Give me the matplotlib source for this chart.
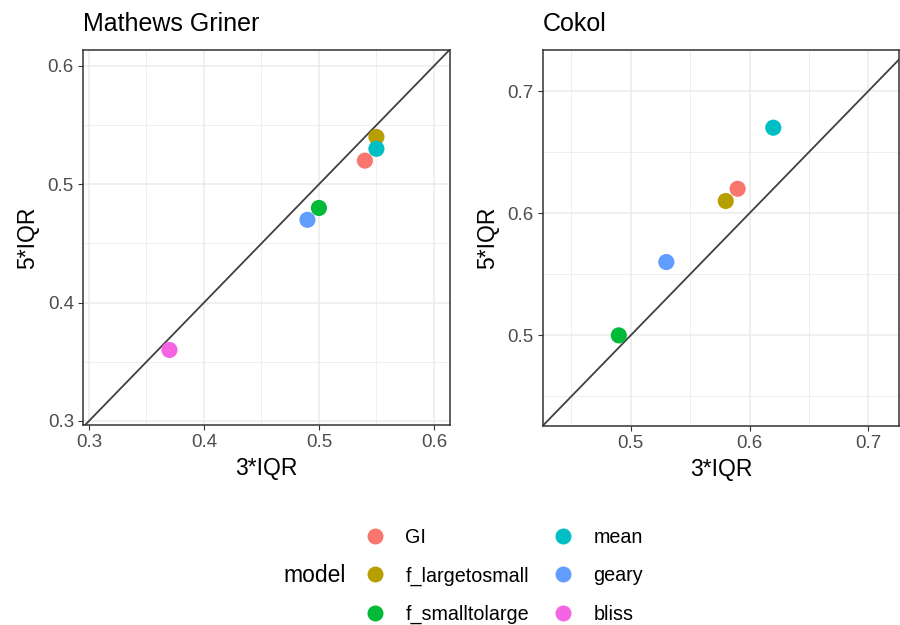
import matplotlib
matplotlib.use("Agg")
import matplotlib.pyplot as plt
from matplotlib.lines import Line2D
from matplotlib.ticker import MultipleLocator

plt.rcParams['font.family'] = ['Liberation Sans', 'DejaVu Sans']

models = ["GI", "f_largetosmall", "f_smalltolarge", "mean", "geary", "bliss"]
colors = ["#F8766D", "#B79F00", "#00BA38", "#00BFC4", "#619CFF", "#F564E3"]

# Mathews Griner: 3*IQR vs 5*IQR per model
mg_x = [0.54, 0.55, 0.50, 0.55, 0.49, 0.37]
mg_y = [0.52, 0.54, 0.48, 0.53, 0.47, 0.36]

# Cokol (no bliss value)
ck_models = ["GI", "f_largetosmall", "f_smalltolarge", "mean", "geary"]
ck_x = [0.59, 0.58, 0.49, 0.62, 0.53]
ck_y = [0.62, 0.61, 0.50, 0.67, 0.56]

fig = plt.figure(figsize=(9, 6.25), dpi=100)

W, H = 900, 625


def px_axes(left, top, right, bottom):
    return fig.add_axes([left / W, 1 - bottom / H, (right - left) / W, (bottom - top) / H])


def style(ax, xlim, ylim, major, title):
    ax.set_xlim(*xlim)
    ax.set_ylim(*ylim)
    ax.xaxis.set_major_locator(MultipleLocator(major))
    ax.yaxis.set_major_locator(MultipleLocator(major))
    ax.xaxis.set_minor_locator(MultipleLocator(major / 2))
    ax.yaxis.set_minor_locator(MultipleLocator(major / 2))
    ax.grid(which="major", color="#EBEBEB", lw=1.1, zorder=0)
    ax.grid(which="minor", color="#EBEBEB", lw=0.55, zorder=0)
    ax.set_axisbelow(True)
    ax.tick_params(which="minor", length=0)
    ax.tick_params(which="major", length=3.5, width=0.8, color="#333333",
                   labelcolor="#4D4D4D", labelsize=13.5, pad=3)
    for s in ax.spines.values():
        s.set_color("#333333")
        s.set_linewidth(1.1)
    ax.set_xlabel("3*IQR", fontsize=16.5, labelpad=4)
    ax.set_ylabel("5*IQR", fontsize=16.5, labelpad=6)
    ax.set_title(title, loc="left", fontsize=18, pad=14)
    ax.axline((0, 0), slope=1, color="#404040", lw=1.3, zorder=2)


ax1 = px_axes(83, 50, 450, 425)
style(ax1, (0.2948, 0.614), (0.2966, 0.6135), 0.1, "Mathews Griner")
for m, x, y, c in zip(models, mg_x, mg_y, colors):
    ax1.scatter(x, y, s=135, color=c, edgecolors="none", zorder=3)

ax2 = px_axes(543, 50, 899, 426)
style(ax2, (0.4262, 0.7258), (0.4258, 0.7336), 0.1, "Cokol")
cmap = dict(zip(models, colors))
for m, x, y in zip(ck_models, ck_x, ck_y):
    ax2.scatter(x, y, s=135, color=cmap[m], edgecolors="none", zorder=3)

handles = [Line2D([], [], ls="none", marker="o", markersize=11.5,
                  markerfacecolor=c, markeredgecolor="none") for c in colors]
fig.legend(handles, models, ncol=2, loc="center left",
           bbox_to_anchor=(363 / W, 1 - 576 / H), frameon=False,
           fontsize=14.2, handletextpad=0.95, columnspacing=1.12,
           labelspacing=1.0, handlelength=1.2, borderaxespad=0, borderpad=0)
fig.text(283 / W, 1 - 576 / H, "model", fontsize=16.5, va="center", ha="left")

fig.savefig("out.png", dpi=100)
